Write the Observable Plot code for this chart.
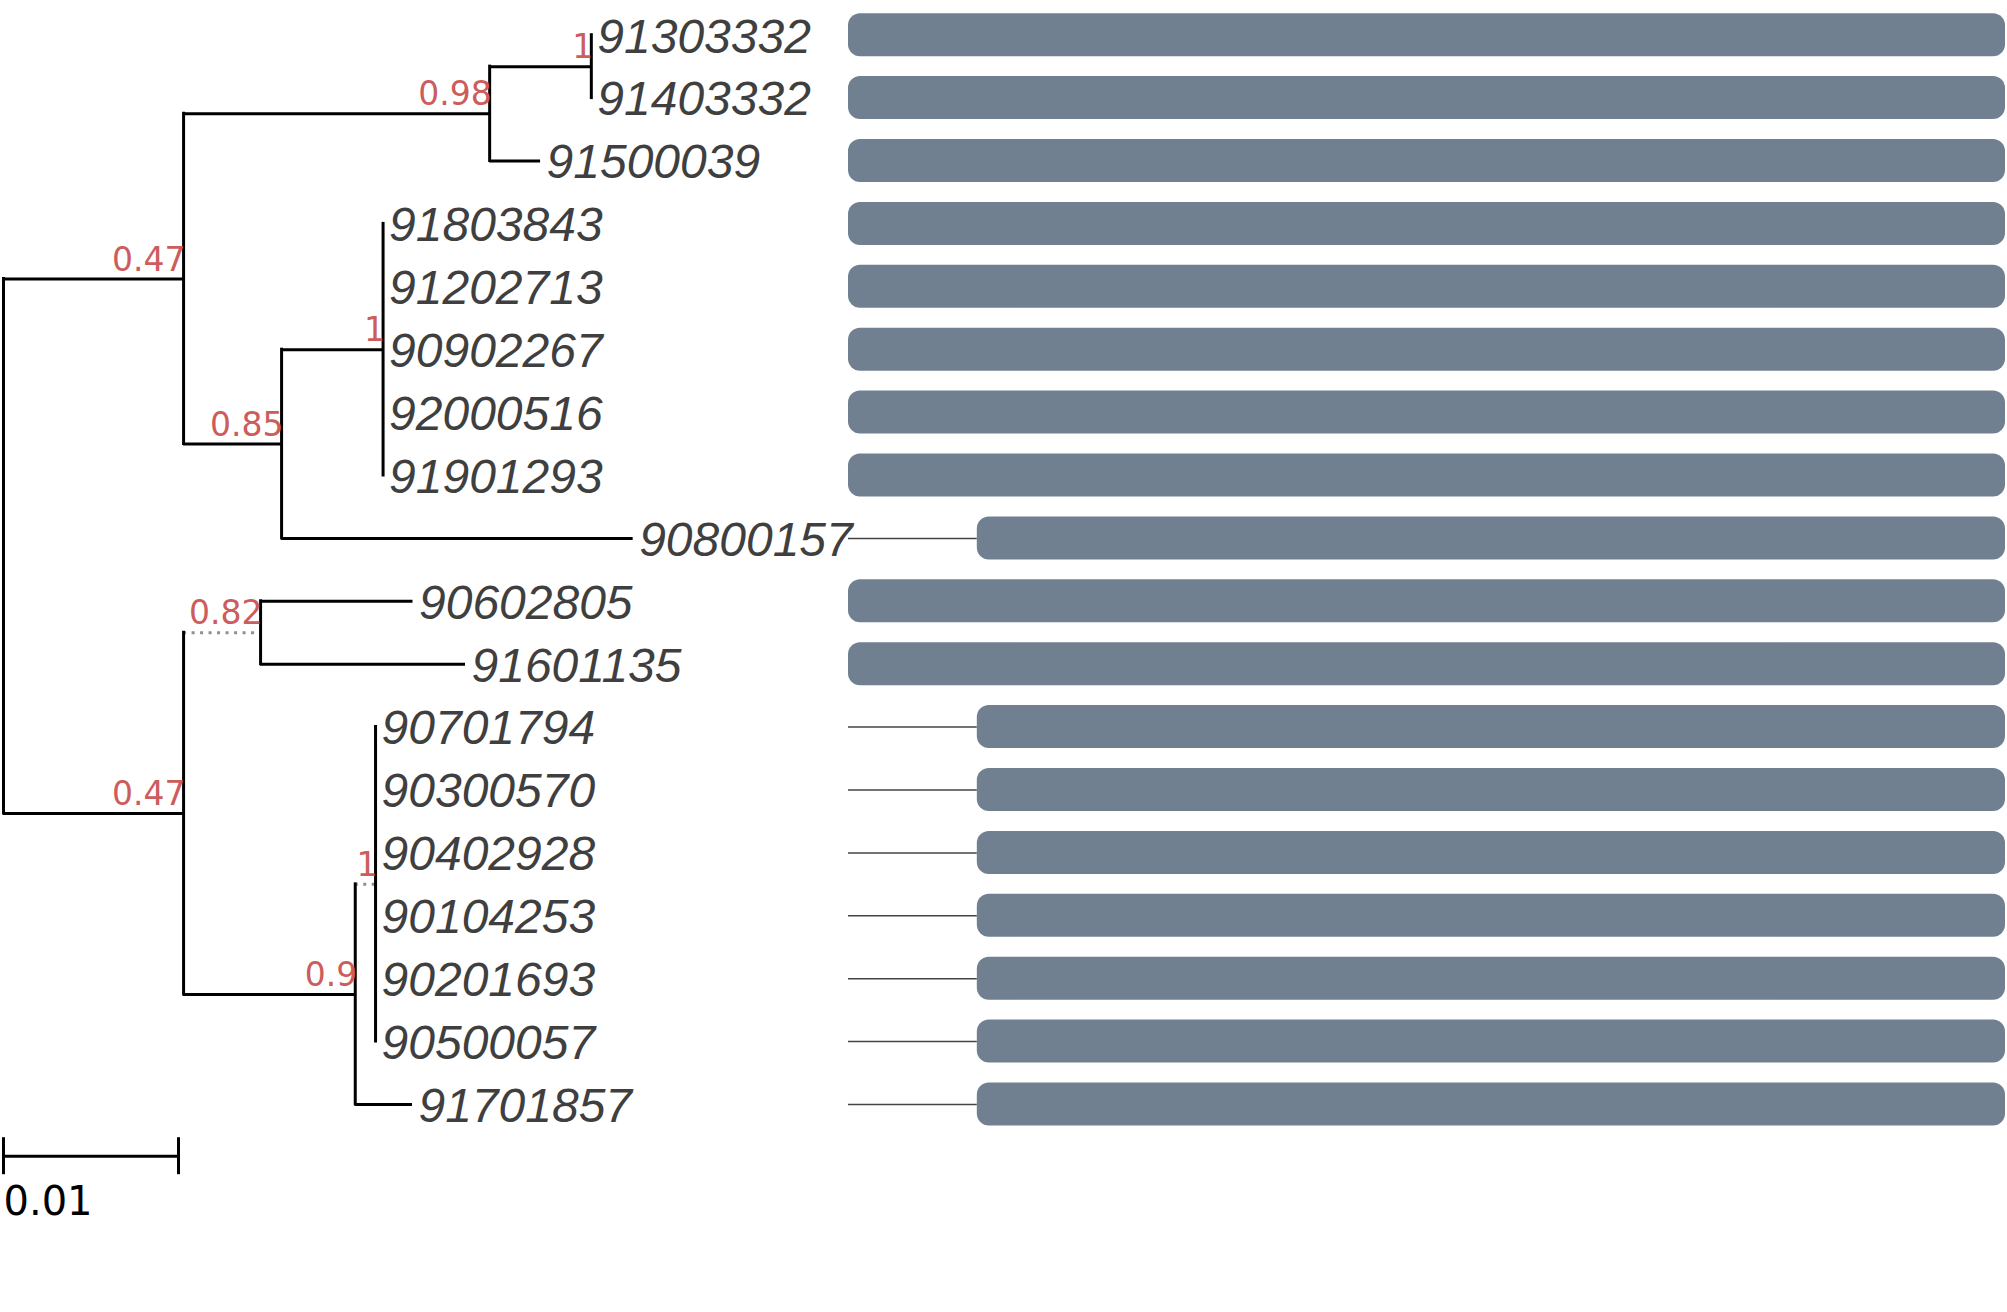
<!DOCTYPE html>
<html>
<head>
<meta charset="utf-8">
<script src="https://cdn.jsdelivr.net/npm/d3@7"></script>
<script src="https://cdn.jsdelivr.net/npm/@observablehq/plot@0.6"></script>
<style>
  html, body { margin: 0; padding: 0; background: #fff; }
  #wrap { position: relative; width: 2007px; height: 1312px; background: #fff; overflow: hidden; }
  #tree, #aln { position: absolute; top: 0; }
  #tree { left: 0; }
  #aln { left: 848px; }
  svg { overflow: visible; }
</style>
</head>
<body>
<div id="wrap"><div id="tree"></div><div id="aln"></div></div>
<script>
// ---- tree data (node id, parent, branch length, bootstrap support) ----
const nodeIds = ["root","A","B","C","91303332","91403332","91500039","D","E",
  "91803843","91202713","90902267","92000516","91901293","90800157",
  "F","G","90602805","91601135","H","I",
  "90701794","90300570","90402928","90104253","90201693","90500057","91701857"];
const parentIds = [null,"root","A","B","C","C","B","A","D",
  "E","E","E","E","E","D",
  "root","F","G","G","F","H",
  "I","I","I","I","I","I","H"];
const branchLengths = [0,0.01029,0.01749,0.00581,0,0,0.00291,0.0056,0.0058,
  0,0,0,0,0,0.02009,
  0.01029,0.0044,0.00871,0.01171,0.00981,0.00116,
  0,0,0,0,0,0,0.00327];
const supports = [null,0.47,0.98,1,null,null,null,0.85,1,
  null,null,null,null,null,null,
  0.47,0.82,null,null,0.9,1,
  null,null,null,null,null,null,null];
const dottedEdges = ["G","I"];

// ---- alignment data ----
const alignmentLength = 1500;
const shortTaxa = ["90800157","90701794","90300570","90402928","90104253","90201693","90500057","91701857"];
const shortStart = 167;

// scale bar
const scaleBarLength = 0.01;
const scaleBarLabel = "0.01";

// ---- build tree ----
const nodes = nodeIds.map((id, i) => ({id, parent: parentIds[i], bl: branchLengths[i], support: supports[i]}));
const root = d3.stratify().id(d => d.id).parentId(d => d.parent)(nodes);
root.eachBefore(n => { n.x = n.parent ? n.parent.x + n.data.bl : 0; });
const leaves = root.leaves();
leaves.forEach((l, i) => { l.y = i; });
root.eachAfter(n => { if (n.children) n.y = d3.mean(n.children, c => c.y); });
const taxa = leaves.map(l => l.data.id);

const internals = root.descendants().filter(n => n.children).map(n => ({
  x: n.x, y: n.y, ymin: d3.min(n.children, c => c.y), ymax: d3.max(n.children, c => c.y), support: n.data.support
}));
const edges = root.descendants().filter(n => n.parent).map(n => ({
  id: n.data.id, x1: n.parent.x, x2: n.x, y: n.y, dotted: dottedEdges.includes(n.data.id)
}));
const leafData = leaves.map(l => ({id: l.data.id, x: l.x, y: l.y}));
const supportData = internals.filter(d => d.support != null);

const scaleBarRow = 17.822;
const scaleBar = [{x1: 0, x2: scaleBarLength, y: scaleBarRow}];
const scaleTicks = [0, scaleBarLength];

const treePlot = Plot.plot({
  width: 850, height: 1312,
  marginLeft: 0, marginRight: 0, marginTop: 0, marginBottom: 0,
  style: {overflow: "visible", background: "transparent"},
  x: {domain: [0, 0.01], range: [3, 178], axis: null},
  y: {domain: [0, 17], range: [34.7, 1104], axis: null},
  marks: [
    Plot.ruleY(edges.filter(d => d.dotted), {y: "y", x1: "x1", x2: "x2", stroke: "#8f8f8f", strokeWidth: 3, strokeDasharray: "3,5.5"}),
    Plot.ruleX(internals, {x: "x", y1: "ymin", y2: "ymax", stroke: "black", strokeWidth: 3, strokeLinecap: "square"}),
    Plot.ruleY(edges.filter(d => !d.dotted && d.x2 > d.x1), {y: "y", x1: "x1", x2: "x2", stroke: "black", strokeWidth: 3}),
    Plot.text(leafData, {x: "x", y: "y", text: "id", textAnchor: "start", dx: 6, dy: 2,
      fontSize: 48, fontFamily: "Liberation Sans, Arial, sans-serif", fontStyle: "italic", fill: "#3f3f3f"}),
    Plot.text(supportData, {x: "x", y: "y", text: d => String(d.support), textAnchor: "end", dx: 2, dy: -19,
      fontSize: 33, fontFamily: "DejaVu Sans, sans-serif", fill: "#cd5c5c"}),
    Plot.ruleY(scaleBar, {y: "y", x1: "x1", x2: "x2", stroke: "black", strokeWidth: 3}),
    Plot.ruleX(scaleTicks, {x: d => d, y1: scaleBarRow - 0.294, y2: scaleBarRow + 0.294, stroke: "black", strokeWidth: 3}),
    Plot.text([scaleBarLabel], {x: 0, y: scaleBarRow, text: d => d, textAnchor: "start", dx: 0, dy: 45.5,
      fontSize: 40, fontFamily: "DejaVu Sans, sans-serif", fill: "black"})
  ]
});
document.getElementById("tree").appendChild(treePlot);

const rows = taxa.map(t => ({taxon: t, start: shortTaxa.includes(t) ? shortStart : 0, end: alignmentLength}));

const alnPlot = Plot.plot({
  width: 1159, height: 1312,
  marginLeft: 0, marginRight: 0, marginTop: 0, marginBottom: 0,
  style: {overflow: "visible", background: "transparent"},
  x: {domain: [0, alignmentLength], range: [0, 1157], axis: null},
  y: {type: "band", domain: taxa, range: [-6.69, 1145.4], padding: 0.316, round: false, axis: null},
  marks: [
    Plot.ruleY(rows.filter(d => d.start > 0), {y: "taxon", x1: 0, x2: "start", stroke: "#444444", strokeWidth: 1.5}),
    Plot.barX(rows, {y: "taxon", x1: "start", x2: "end", fill: "#708090", rx: 12, ry: 12})
  ]
});
document.getElementById("aln").appendChild(alnPlot);
</script>
</body>
</html>
